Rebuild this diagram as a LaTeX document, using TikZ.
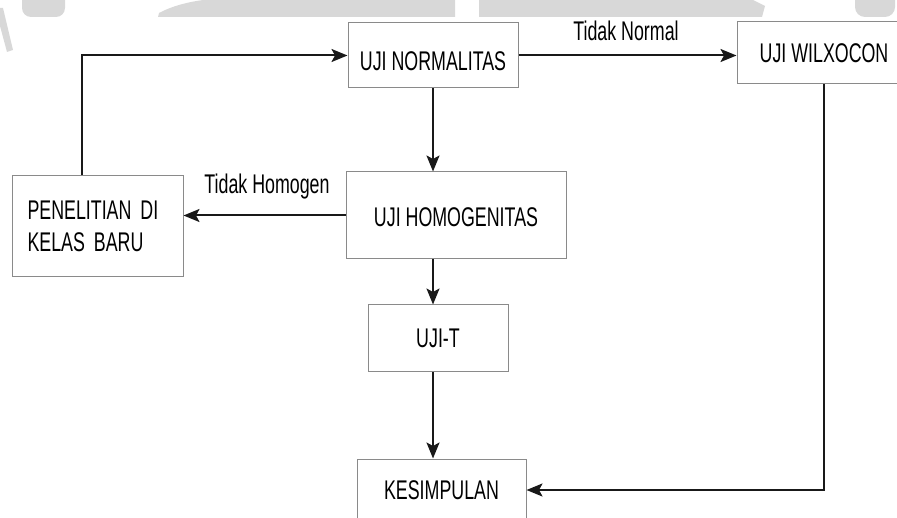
\documentclass[tikz,border=0pt]{standalone}
\usepackage{fontspec}
\setmainfont{Liberation Sans}[FakeStretch=0.66]
\usetikzlibrary{arrows.meta}
\definecolor{wm}{HTML}{D8D8D8}
\definecolor{boxline}{HTML}{8A8A8A}
\newcommand\lowertext[2]{\raisebox{-#1}[\height][\depth]{#2}}
\tikzset{
  box/.style={draw=boxline, line width=1pt, fill=white, inner sep=0pt, align=center,
    font=\fontsize{27}{32}\selectfont},
  conn/.style={draw=black!90, line width=2pt,
    -{Stealth[length=16pt,width=13pt,inset=3.5pt]}},
  lbl/.style={font=\fontsize{27}{30}\selectfont, inner sep=0pt}
}
\begin{document}
\begin{tikzpicture}[x=1pt,y=-1pt]
\useasboundingbox (0,0) rectangle (897,518);
\clip (0,0) rectangle (897,518);
% watermark shapes
\fill[wm] (0,8) -- (3,8) -- (13,50) -- (7,52) -- (0,26) -- cycle;
\fill[wm, rounded corners=9pt] (22,-12) rectangle (65,17);
\fill[wm] (158,17) -- (159,13) .. controls (172,6) and (188,2) .. (203,0) -- (455,0) -- (455,17) -- cycle;
\fill[wm] (479,0) -- (753,0) -- (765,6) -- (762,17) -- (479,17) -- cycle;
\fill[wm, rounded corners=10pt] (855,-12) rectangle (895,17);
% boxes
\node[box, minimum width=170pt, minimum height=65pt] (norm) at (433,55.5) {\lowertext{6pt}{UJI NORMALITAS}};
\node[box, minimum width=174pt, minimum height=62pt] (wilx) at (824,53) {UJI WILXOCON};
\node[box, minimum width=171pt, minimum height=101pt, text width=140pt, align=left] (pen) at (97.5,226.5) {PENELITIAN DI\\KELAS BARU};
\node[box, minimum width=220pt, minimum height=87pt] (homo) at (456,215.5) {\lowertext{2pt}{UJI HOMOGENITAS}};
\node[box, minimum width=140pt, minimum height=67pt] (ujit) at (438,338.5) {UJI-T};
\node[box, minimum width=169pt, minimum height=62pt] (kes) at (441.5,490) {KESIMPULAN};
% connectors
\draw[conn] ([xshift=-15.5pt]pen.north) |- (norm.west);
\draw[conn] (norm.east) -- (norm.east -| wilx.west);
\draw[conn] (norm.south) -- (norm.south |- homo.north);
\draw[conn] (homo.west) -- (homo.west -| pen.east);
\draw[conn] (norm.south |- homo.south) -- (norm.south |- ujit.north);
\draw[conn] (norm.south |- ujit.south) -- (norm.south |- kes.north);
\draw[conn] (wilx.south) |- (kes.east);
% labels
\node[lbl] (tn) at (626,31) {Tidak Normal};
\node[lbl] (th) at (267,187) {Tidak Homogen};
\end{tikzpicture}
\end{document}
